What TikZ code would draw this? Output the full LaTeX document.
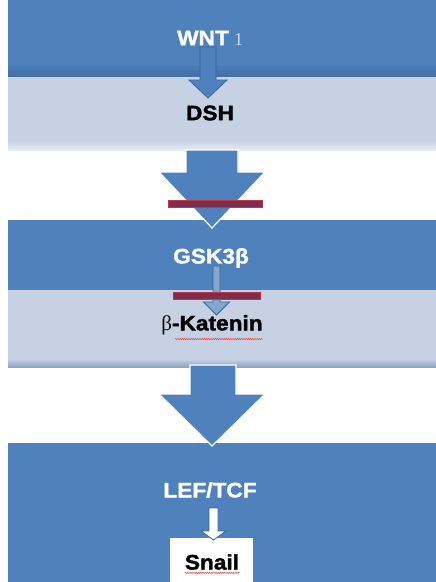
\documentclass[tikz,border=0pt]{standalone}
\usepackage{fontspec}
\setmainfont{Liberation Sans}
\newfontfamily\heavy{Liberation Sans Bold}[FakeBold=1.6, FakeStretch=1.08]
\newfontfamily\serif{Liberation Serif}
\usetikzlibrary{decorations.pathmorphing}
\definecolor{bandblue}{HTML}{4F81BD}
\definecolor{banddark}{HTML}{3F6CA4}
\definecolor{bandlight}{HTML}{C6D1E4}
\definecolor{edgeblue}{HTML}{3A6597}
\definecolor{barfill}{HTML}{7D2E4F}
\definecolor{barline}{HTML}{C2343F}
\definecolor{paleone}{HTML}{C9DCF2}
\tikzset{
  x=1pt, y=-1pt,
  label/.style={inner sep=0pt, anchor=center},
  whitetext/.style={label, text=white, font=\heavy\fontsize{21}{23}\selectfont},
  blacktext/.style={label, text=black, font=\heavy\fontsize{21}{23}\selectfont},
  bigarrow/.style={fill=bandblue, draw=white, line width=1.2pt, line join=miter},
  smallarrow/.style={fill=bandblue, draw=edgeblue, line width=0.8pt},
  blocker/.style={fill=barfill, draw=barline, line width=1pt},
  squiggle/.style={draw=red!80!white, line width=0.5pt, decorate,
    decoration={snake, amplitude=0.6pt, segment length=2.2pt}}
}
\begin{document}
\begin{tikzpicture}
\useasboundingbox (0,0) rectangle (436,582);
\fill[white] (0,0) rectangle (436,582);
% horizontal bands
\fill[bandblue] (8,0) rectangle (436,77);
\shade[top color=bandblue, bottom color=banddark] (8,64) rectangle (436,77);
\fill[bandlight] (8,77) rectangle (436,150);
\shade[top color=bandlight, bottom color=bandlight!40!white] (8,140) rectangle (436,150);
\fill[bandblue] (8,220) rectangle (436,290);
\fill[bandlight] (8,290) rectangle (436,365);
\shade[top color=bandlight, bottom color=edgeblue!60!white] (8,359) rectangle (436,367);
\fill[bandblue] (8,443) rectangle (436,582);

% labels
\node[whitetext] (wnt) at (203,38) {WNT};
\node[label, anchor=base west, text=paleone, font=\serif\fontsize{18}{20}\selectfont] (one) at ([xshift=5pt]wnt.base east) {1};
\node[blacktext] (dsh) at (210,113) {DSH};
\node[whitetext] (gsk) at (211,258) {GSK3β};
\node[label, font=\fontsize{21}{23}\selectfont] (kat) at (212,325) {{\serif β}{\heavy -Katenin}};
\node[whitetext] (lef) at (210,490) {LEF/TCF};
\node[draw=none, fill=white, minimum width=83pt, minimum height=44pt, inner sep=0pt] (snailbox) at (211.5,560) {};
\node[blacktext] (snail) at (212,562) {Snail};

% WNT -> DSH
\draw[smallarrow] (200,47) -- (216,47) -- (216,80) -- (227,80) -- (208,98) -- (189,80) -- (200,80) -- cycle;

% first large arrow, blocked
\draw[bigarrow] (186,150) -- (238,150) -- (238,172) -- (265,172) -- (212,228) -- (159,172) -- (186,172) -- cycle;
\draw[blocker] (168,200) rectangle (262,207);

% GSK3b -> beta-Katenin, blocked
\draw[smallarrow, fill=bandblue!70!white] (213,266) -- (220,266) -- (220,302) -- (229.5,302) -- (216.5,315) -- (203.5,302) -- (213,302) -- cycle;
\draw[blocker] (173,292) rectangle (260,299);

% second large arrow
\draw[bigarrow] (190,365) -- (236,365) -- (236,394) -- (265,394) -- (212,446) -- (159,394) -- (190,394) -- cycle;

% LEF/TCF -> Snail
\draw[smallarrow, fill=white] (209,508) -- (218,508) -- (218,531) -- (226,531) -- (213.5,540) -- (201,531) -- (209,531) -- cycle;

% spell-check underlines
\draw[squiggle] ([yshift=-4pt]kat.south west) ++(14,0) -- ([yshift=-4pt]kat.south east);
\draw[squiggle] ([yshift=-3pt]snail.south west) -- ([yshift=-3pt]snail.south east);
\end{tikzpicture}
\end{document}
